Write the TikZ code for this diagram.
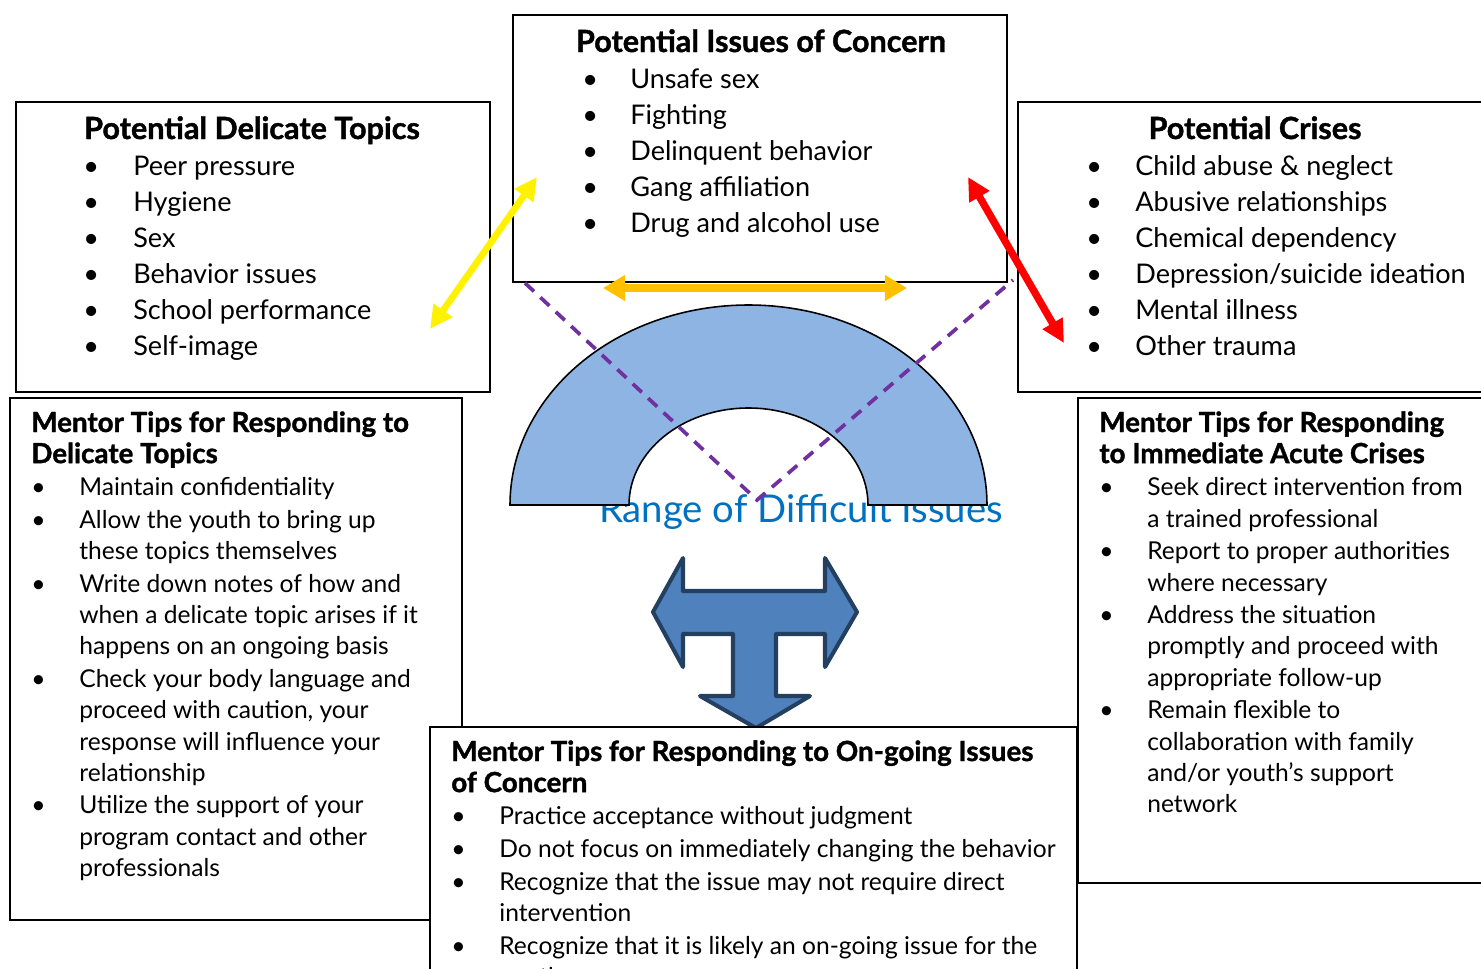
\documentclass[tikz,border=0pt]{standalone}
\usepackage{fontspec}
\setmainfont{Lato}[BoldFeatures={FakeBold=1.3}]
\usetikzlibrary{arrows.meta}

\definecolor{archblue}{RGB}{141,180,226}
\definecolor{tfill}{RGB}{79,129,189}
\definecolor{tline}{RGB}{36,64,97}
\definecolor{dashpurple}{RGB}{112,48,160}
\definecolor{rangeblue}{RGB}{0,112,192}
\definecolor{arrorange}{RGB}{255,192,0}

\tikzset{
  boxline/.style={draw=black, line width=1pt, fill=white},
  heading/.style={inner sep=0, anchor=base, font=\fontsize{17.4}{20.6}\selectfont\bfseries},
  toplist/.style={inner sep=0, anchor=base west, font=\fontsize{15.4}{20.6}\selectfont},
  tiplist/.style={inner sep=0, anchor=base west, font=\fontsize{14}{17.7}\selectfont},
  bothways/.style={line width=#1, {Triangle[length=13pt,width=12.5pt]}-{Triangle[length=13pt,width=12.5pt]}}
}
\newcommand{\tiphead}[1]{\multicolumn{2}{@{}l@{}}{\fontsize{15.8}{17.7}\selectfont\bfseries #1}}

\begin{document}
\begin{tikzpicture}[x=0.02cm,y=-0.02cm]
    \useasboundingbox (0,0) rectangle (1481,968);
    \clip (0,0) rectangle (1481,968);

    % the three top boxes
    \draw[boxline] (513,15) rectangle (1007,282);
    \draw[boxline] (16,102) rectangle (490,392);
    \draw[boxline] (1018,102) rectangle (1495,392);

    \node[heading] (concernhead) at (761,52) {Potential Issues of Concern};
    \node[toplist] (concernlist) at (582,88) {\begin{tabular}[t]{@{}p{0.96cm}@{}l@{}}
        \textbullet & Unsafe sex\\
        \textbullet & Fighting\\
        \textbullet & Delinquent behavior\\
        \textbullet & Gang affiliation\\
        \textbullet & Drug and alcohol use
    \end{tabular}};

    \node[heading] (delicatehead) at (252,139) {Potential Delicate Topics};
    \node[toplist] (delicatelist) at (83,175) {\begin{tabular}[t]{@{}p{1.0cm}@{}l@{}}
        \textbullet & Peer pressure\\
        \textbullet & Hygiene\\
        \textbullet & Sex\\
        \textbullet & Behavior issues\\
        \textbullet & School performance\\
        \textbullet & Self-image
    \end{tabular}};

    \node[heading] (criseshead) at (1255,139) {Potential Crises};
    \node[toplist] (criseslist) at (1086,175) {\begin{tabular}[t]{@{}p{0.98cm}@{}l@{}}
        \textbullet & Child abuse \& neglect\\
        \textbullet & Abusive relationships\\
        \textbullet & Chemical dependency\\
        \textbullet & Depression/suicide ideation\\
        \textbullet & Mental illness\\
        \textbullet & Other trauma
    \end{tabular}};

    % mentor tips, left and right
    \draw[boxline] (10,398) rectangle (462,920);
    \node[tiplist] (delicatetips) at (31,432) {\begin{tabular}[t]{@{}p{0.96cm}@{}l@{}}
        \tiphead{Mentor Tips for Responding to}\\
        \tiphead{Delicate Topics}\\[1pt]
        \textbullet & Maintain confidentiality\\[1pt]
        \textbullet & Allow the youth to bring up\\
        & these topics themselves\\[1pt]
        \textbullet & Write down notes of how and\\
        & when a delicate topic arises if it\\
        & happens on an ongoing basis\\[1pt]
        \textbullet & Check your body language and\\
        & proceed with caution, your\\
        & response will influence your\\
        & relationship\\[1pt]
        \textbullet & Utilize the support of your\\
        & program contact and other\\
        & professionals
    \end{tabular}};

    \draw[boxline] (1078,398) rectangle (1495,883);
    \node[tiplist] (crisestips) at (1099,432) {\begin{tabular}[t]{@{}p{0.96cm}@{}l@{}}
        \tiphead{Mentor Tips for Responding}\\
        \tiphead{to Immediate Acute Crises}\\[1pt]
        \textbullet & Seek direct intervention from\\
        & a trained professional\\[1pt]
        \textbullet & Report to proper authorities\\
        & where necessary\\[1pt]
        \textbullet & Address the situation\\
        & promptly and proceed with\\
        & appropriate follow-up\\[1pt]
        \textbullet & Remain flexible to\\
        & collaboration with family\\
        & and/or youth’s support\\
        & network
    \end{tabular}};

    % range of difficult issues
    \node[inner sep=0, anchor=base, text=rangeblue, font=\fontsize{21.8}{25}\selectfont] (rangelabel) at (801,522) {Range of Difficult Issues};
    \draw[fill=archblue, draw=black, line width=0.9pt] (510,505) arc[start angle=180, end angle=360, x radius=238.5, y radius=200]
        -- (868,505) arc[start angle=360, end angle=180, x radius=119.5, y radius=97] -- cycle;

    \coordinate (apex) at (757,500);
    \draw[dashpurple, line width=2.1pt, dash pattern=on 7pt off 5pt] (525,283) -- (apex) -- (1013,280);

    % arrows between the topics
    \coordinate (yellowtop) at (537,177);
    \coordinate (yellowbot) at (430,329);
    \draw[yellow, bothways=3.8pt] (yellowtop) -- (yellowbot);
    \coordinate (redtop) at (968,177);
    \coordinate (redbot) at (1064,343);
    \draw[red, bothways=4.2pt] (redtop) -- (redbot);
    \coordinate (orangeleft) at (603,288);
    \coordinate (orangeright) at (907,288);
    \draw[arrorange, line width=4.3pt, {Triangle[length=12.6pt,width=14pt]}-{Triangle[length=12.6pt,width=14pt]}] (orangeleft) -- (orangeright);

    % T arrow
    \draw[fill=tfill, draw=tline, line width=2.3pt, line join=round]
        (653,612) -- (683,558) -- (683,591) -- (825,591) -- (825,558) -- (857,612)
        -- (825,667) -- (825,634) -- (776,634) -- (776,696) -- (810,696) -- (756,728)
        -- (700,696) -- (733,696) -- (733,634) -- (683,634) -- (683,667) -- cycle;

    % mentor tips, bottom
    \draw[boxline] (430,727) rectangle (1077,990);
    \node[tiplist] (concerntips) at (451,761) {\begin{tabular}[t]{@{}p{0.96cm}@{}l@{}}
        \tiphead{Mentor Tips for Responding to On-going Issues}\\
        \tiphead{of Concern}\\[1pt]
        \textbullet & Practice acceptance without judgment\\[1pt]
        \textbullet & Do not focus on immediately changing the behavior\\[1pt]
        \textbullet & Recognize that the issue may not require direct\\
        & intervention\\[1pt]
        \textbullet & Recognize that it is likely an on-going issue for the\\
        & youth
    \end{tabular}};
\end{tikzpicture}
\end{document}
